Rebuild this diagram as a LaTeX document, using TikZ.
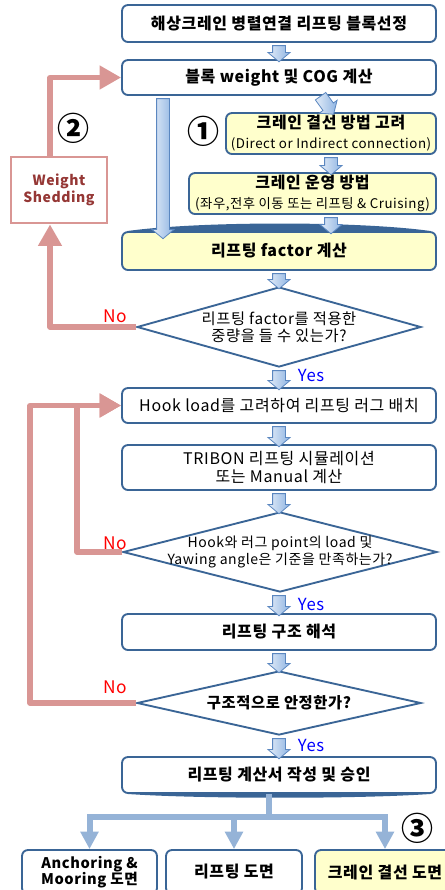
\documentclass[tikz,border=0pt]{standalone}
\usepackage{fontspec}
\setmainfont{Noto Sans CJK KR}[LetterSpace=4]
\usepackage{xcolor}
\usetikzlibrary{arrows.meta,calc,shapes.geometric,shapes.arrows}
\definecolor{border}{HTML}{3A6596}
\definecolor{note}{HTML}{FFFFCC}
\definecolor{flowlight}{HTML}{E3ECF7}
\definecolor{flowdark}{HTML}{8EB4E3}
\definecolor{flowedge}{HTML}{5B87C0}
\definecolor{branch}{HTML}{95B3D7}
\definecolor{loop}{HTML}{D99694}
\definecolor{shed}{HTML}{953735}
\tikzset{
  box/.style={draw=border, line width=1.4pt, rounded corners=4.5pt, fill=white, inner sep=0pt, align=center, font=\fontsize{12}{13.5}\selectfont},
  boxY/.style={box, fill=note},
  dec/.style={diamond, draw=border, line width=1.4pt, fill=white, inner sep=0pt},
  dectext/.style={align=center, inner sep=0pt, font=\fontsize{11.5}{12.75}\selectfont},
  flow/.style={single arrow, draw=flowedge, line width=0.6pt, left color=flowlight, right color=flowdark, inner xsep=0pt, inner ysep=4.5pt, single arrow head extend=3.5pt, single arrow tip angle=100},
  feed/.style={draw=loop, line width=3.8pt, line join=round, -{Triangle[length=16pt,width=17pt]}},
  split/.style={draw=branch, line width=4.5pt, -{Triangle[length=13pt,width=13pt]}},
  no/.style={text=red, font=\fontsize{13}{14}\selectfont},
  yes/.style={text=blue, font=\fontsize{12.5}{14}\selectfont},
  num/.style={font=\bfseries\fontsize{24}{24}\selectfont, inner sep=0pt}
}
\newcommand{\subline}{\mdseries\fontsize{10}{12}\selectfont}
\newcommand{\flowarrow}[2]{%
  \path let \p1=(#1), \p2=(#2), \n1={veclen(\x2-\x1,\y2-\y1)} in
    (\p1) -- (\p2) node[flow, midway, sloped, allow upside down, minimum height=\n1] {};}

\begin{document}
\begin{tikzpicture}[x=0.75pt, y=-0.75pt]
  \useasboundingbox (0,0) rectangle (445,890);

  % main column
  \node[box, minimum width=235.5pt, minimum height=27.75pt] (sel) at (279,23.5) {\bfseries 해상크레인 병렬연결 리프팅 블록선정};
  \node[box, minimum width=235.5pt, minimum height=26.25pt] (cog) at (279,77.5) {\bfseries 블록 weight 및 COG 계산};
  \node[boxY, minimum width=157.5pt, minimum height=30.75pt] (conn) at (331,133.5) {\bfseries 크레인 결선 방법 고려\\[1.5pt]{\subline (Direct or Indirect connection)}};
  \node[boxY, minimum width=185.25pt, minimum height=30.75pt] (oper) at (312.5,193.5) {\bfseries 크레인 운영 방법\\[1.5pt]{\subline (좌우,전후 이동 또는 리프팅 \& Cruising)}};
  \node[boxY, minimum width=235.5pt, minimum height=28.5pt] (factor) at (279,251) {\bfseries 리프팅 factor 계산};
  \node[dec, minimum width=213pt, minimum height=60pt] (lift) at (279,327) {};
  \node[dectext] (liftT) at (lift) {리프팅 factor를 적용한\\중량을 들 수 있는가?};
  \node[box, minimum width=235.5pt, minimum height=26.25pt] (lug) at (279,405.5) {Hook load를 고려하여 리프팅 러그 배치};
  \node[box, minimum width=235.5pt, minimum height=33.75pt] (sim) at (279,467.5) {TRIBON 리프팅 시뮬레이션\\또는 Manual 계산};
  \node[dec, minimum width=235.5pt, minimum height=60pt] (yaw) at (280,552) {};
  \node[dectext, font=\fontsize{10.5}{12.75}\selectfont] (yawT) at (yaw) {Hook와 러그 point의 load 및\\Yawing angle은 기준을 만족하는가?};
  \node[box, minimum width=235.5pt, minimum height=27pt] (fem) at (279,632) {\bfseries 리프팅 구조 해석};
  \node[dec, minimum width=213pt, minimum height=48pt] (safe) at (279,703) {};
  \node[dectext] (safeT) at (safe) {\bfseries 구조적으로 안정한가?};
  \node[box, minimum width=235.5pt, minimum height=27pt] (report) at (279,775) {\bfseries 리프팅 계산서 작성 및 승인};

  % dark edges on two boxes
  \fill[border] ($(factor.north west)+(6,0)$) .. controls (200,221) and (360,221) .. ($(factor.north east)+(-6,0)$) -- cycle;
  \fill[border] ($(report.south west)+(6,0)$) .. controls (200,799) and (360,799) .. ($(report.south east)+(-6,0)$) -- cycle;

  % drawings
  \node[box, minimum width=101.25pt, minimum height=33pt, font=\fontsize{11}{12.5}\selectfont] (moor) at (89.5,872) {\bfseries Anchoring \&\\\bfseries Mooring 도면};
  \node[box, minimum width=102pt, minimum height=33pt] (dwg) at (234,872) {\bfseries 리프팅 도면};
  \node[boxY, minimum width=105pt, minimum height=33pt] (cdwg) at (385,872) {\bfseries 크레인 결선 도면};

  % weight shedding
  \node[draw=loop, line width=2.2pt, minimum width=72pt, minimum height=49.5pt, align=center, text=shed, font=\bfseries\fontsize{10.5}{13}\selectfont] (shed) at (59,190) {Weight\\Shedding};

  % flow arrows
  \flowarrow{sel.south}{cog.north}
  \flowarrow{319,94}{conn.north -| 332,0}
  \flowarrow{conn.south}{conn.south |- oper.north}
  \flowarrow{oper.south -| conn.south}{conn.south |- factor.north}
  \flowarrow{cog.south -| 163,0}{163,236}
  \flowarrow{factor.south}{lift.north}
  \flowarrow{lift.south}{lug.north}
  \flowarrow{lug.south}{sim.north}
  \flowarrow{sim.south}{yaw.north -| sim.south}
  \flowarrow{yaw.south -| sim.south}{fem.north}
  \flowarrow{fem.south}{safe.north}
  \flowarrow{safe.south}{report.north}

  % feedback loops
  \coordinate (up1) at (50,327);
  \draw[feed] (lift.west) -- (up1) -- (up1 |- shed.south);
  \draw[feed] (up1 |- shed.north) |- (cog.west);
  \coordinate (up2) at (77,552);
  \coordinate (up3) at (30,703);
  \draw[feed] (yaw.west) -- (up2) |- (lug.west);
  \draw[feed] (safe.west) -- (up3) |- (lug.west);

  % branch to drawings
  \coordinate (fork) at (269,817);
  \draw[draw=branch, line width=4.5pt] (report.south -| fork) -- (fork);
  \draw[split] (fork) -| (moor.north);
  \draw[split] (fork) -| (cdwg.north);
  \draw[split] (fork -| dwg.north) -- (dwg.north);

  % labels
  \node[no] (no1) at (115,316) {No};
  \node[yes] (yes1) at (311,375) {Yes};
  \node[no] (no2) at (115,543) {No};
  \node[yes] (yes2) at (311,604) {Yes};
  \node[no] (no3) at (115,687) {No};
  \node[yes] (yes3) at (311,745) {Yes};
  \node[num] (n1) at (203,131) {①};
  \node[num] (n2) at (73,128) {②};
  \node[num] (n3) at (417,828) {③};
\end{tikzpicture}
\end{document}
